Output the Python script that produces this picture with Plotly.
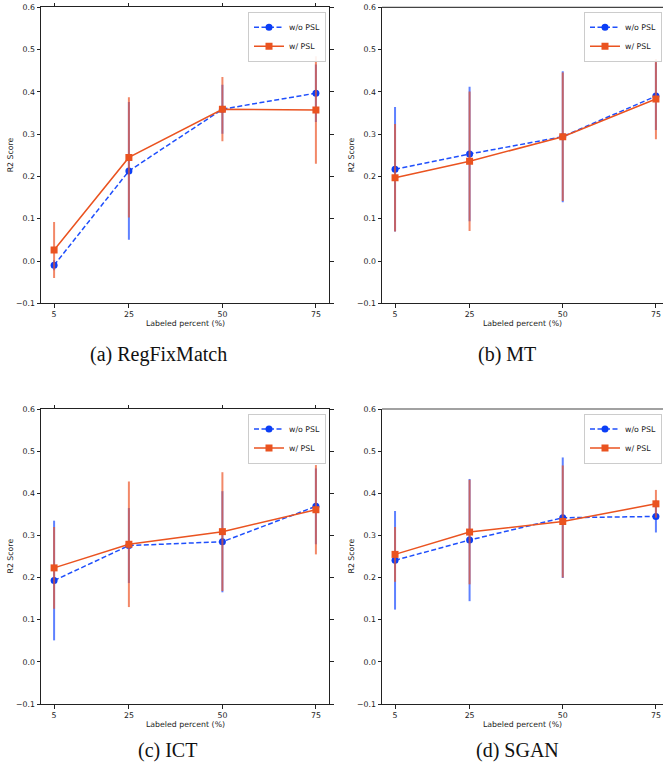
import plotly.graph_objects as go

# ---------------- data ----------------
labeled_pct = [5, 25, 50, 75]
series_names = ["w/o PSL", "w/ PSL"]
panel_titles = ["(a) RegFixMatch", "(b) MT", "(c) ICT", "(d) SGAN"]
y_tick_vals = [-0.1, 0.0, 0.1, 0.2, 0.3, 0.4, 0.5, 0.6]
y_tick_text = ["\u22120.1", "0.0", "0.1", "0.2", "0.3", "0.4", "0.5", "0.6"]
x_tick_text = ["5", "25", "50", "75"]

regfix_wo = [-0.010, 0.213, 0.359, 0.397]
regfix_wo_err = [0.012, 0.163, 0.058, 0.068]
regfix_w = [0.026, 0.245, 0.359, 0.357]
regfix_w_err = [0.066, 0.142, 0.076, 0.127]

mt_wo = [0.217, 0.253, 0.294, 0.390]
mt_wo_err = [0.147, 0.159, 0.155, 0.080]
mt_w = [0.197, 0.236, 0.294, 0.383]
mt_w_err = [0.127, 0.165, 0.152, 0.095]

ict_wo = [0.193, 0.276, 0.285, 0.369]
ict_wo_err = [0.142, 0.089, 0.120, 0.090]
ict_w = [0.223, 0.279, 0.309, 0.361]
ict_w_err = [0.097, 0.149, 0.141, 0.106]

sgan_wo = [0.241, 0.289, 0.342, 0.345]
sgan_wo_err = [0.117, 0.145, 0.143, 0.038]
sgan_w = [0.255, 0.308, 0.333, 0.375]
sgan_w_err = [0.065, 0.124, 0.133, 0.033]

panels = [
    (regfix_wo, regfix_wo_err, regfix_w, regfix_w_err),
    (mt_wo, mt_wo_err, mt_w, mt_w_err),
    (ict_wo, ict_wo_err, ict_w, ict_w_err),
    (sgan_wo, sgan_wo_err, sgan_w, sgan_w_err),
]

# ---------------- style / layout ----------------
W, H = 663, 771
BLUE = "#0b3ef6"
BLUE_LINE = "#1f4ffc"
BLUE_ERR = "rgba(25,75,255,0.70)"
ORANGE = "#ea5320"
ORANGE_ERR = "rgba(236,85,40,0.70)"
TICK_FONT = dict(family="DejaVu Sans", size=7.8, color="#222222")

def px_x(p):
    return p / W

def px_y(p):
    return 1 - p / H

# pixel geometry of each panel
geo = [
    (41, 329, 7.3, 303.3, [1.5, 78.5], 326, "right", True),
    (382, 663, 7.3, 303.3, [1.5, 76.9], 662, "right", False),
    (41, 329, 409, 704, [1.5, 78.5], 326, "right", True),
    (382, 663, 409, 704, [1.5, 76.9], 662, "right", False),
]

fig = go.Figure()
layout = dict(
    width=W, height=H,
    margin=dict(l=0, r=0, t=0, b=0, autoexpand=False),
    paper_bgcolor="white", plot_bgcolor="white",
    showlegend=True,
)
annotations = []
shapes = []

for i, ((wo, wo_err, w, w_err), g) in enumerate(zip(panels, geo)):
    left, right, top, bottom, xr, lgx, lganchor, full_box = g
    sfx = "" if i == 0 else str(i + 1)
    xa, ya = "x" + sfx, "y" + sfx
    lg = "legend" if i == 0 else "legend" + str(i + 1)

    fig.add_trace(go.Scatter(
        x=labeled_pct, y=wo, name=series_names[0], mode="lines+markers",
        xaxis=xa, yaxis=ya, legend=lg,
        line=dict(color=BLUE_LINE, width=1.5, dash="5px,2.5px"),
        marker=dict(symbol="circle", size=7, color=BLUE),
        error_y=dict(type="data", array=wo_err, color=BLUE_ERR, thickness=2, width=0),
    ))
    fig.add_trace(go.Scatter(
        x=labeled_pct, y=w, name=series_names[1], mode="lines+markers",
        xaxis=xa, yaxis=ya, legend=lg,
        line=dict(color=ORANGE, width=1.5),
        marker=dict(symbol="square", size=7, color=ORANGE),
        error_y=dict(type="data", array=w_err, color=ORANGE_ERR, thickness=2, width=0),
    ))

    xdom = [px_x(left), min(1.0, px_x(right))]
    ydom = [px_y(bottom), px_y(top)]
    layout["xaxis" + sfx] = dict(
        domain=xdom, range=xr, anchor=ya,
        tickvals=labeled_pct, ticktext=x_tick_text,
        showgrid=False, zeroline=False,
        showline=True, linecolor="#222222", linewidth=1,
        mirror=("ticks" if full_box else False),
        ticks="outside", ticklen=3.5, tickwidth=0.8, tickcolor="#222222",
        tickfont=TICK_FONT,
    )
    layout["yaxis" + sfx] = dict(
        domain=ydom, range=[-0.1, 0.6], anchor=xa,
        tickvals=y_tick_vals, ticktext=y_tick_text,
        showgrid=False, zeroline=False,
        showline=True, linecolor="#222222", linewidth=1,
        mirror=("ticks" if full_box else False),
        ticks="outside", ticklen=3.5, tickwidth=0.8, tickcolor="#222222",
        tickfont=TICK_FONT,
    )
    if not full_box:
        shapes.append(dict(type="line", xref="paper", yref="paper",
                           x0=px_x(left), x1=1.0, y0=px_y(top), y1=px_y(top),
                           line=dict(color="#444444", width=1.2)))

    layout[lg] = dict(
        x=px_x(lgx), xanchor=lganchor, y=px_y(top + 4.5), yanchor="top",
        bgcolor="rgba(255,255,255,0.9)", bordercolor="#cccccc", borderwidth=1,
        font=dict(family="DejaVu Sans", size=7.8, color="#222222"),
        itemwidth=30, tracegroupgap=0,
    )

    # axis titles
    xcenter = (left + (left + 3.733 * (xr[1] - xr[0]) if not full_box else right)) / 2
    annotations.append(dict(
        text="Labeled percent (%)", xref="paper", yref="paper",
        x=px_x(xcenter), y=px_y(bottom + 20), xanchor="center", yanchor="middle",
        showarrow=False, font=dict(family="DejaVu Sans", size=7.8, color="#222222"),
    ))
    annotations.append(dict(
        text="R2 Score", xref="paper", yref="paper", textangle=-90,
        x=px_x(left - 31), y=px_y((top + bottom) / 2), xanchor="center", yanchor="middle",
        showarrow=False, font=dict(family="DejaVu Sans", size=7.8, color="#222222"),
    ))

# captions
caption_pos = [(158, 355), (507, 355), (167, 750), (517, 750)]
for t, (cx, cy) in zip(panel_titles, caption_pos):
    annotations.append(dict(
        text=t, xref="paper", yref="paper", x=px_x(cx), y=px_y(cy),
        xanchor="center", yanchor="middle", showarrow=False,
        font=dict(family="Liberation Serif", size=20, color="#111111"),
    ))

layout["annotations"] = annotations
layout["shapes"] = shapes
fig.update_layout(**layout)

fig.write_html("out.html")
